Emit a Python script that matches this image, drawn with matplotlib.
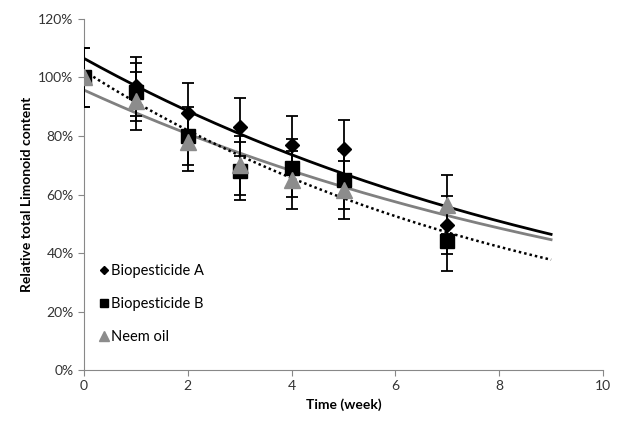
import numpy as np
import matplotlib
matplotlib.use('Agg')
import matplotlib.pyplot as plt
from matplotlib.ticker import FuncFormatter

plt.rcParams['font.family'] = ['Lato', 'DejaVu Sans']

# Data (relative content, %)
weeks = [0, 1, 2, 3, 4, 5, 7]
bio_a = [100, 97, 88, 83, 77, 75.5, 49.5]
bio_a_err = [10, 10, 10, 10, 10, 10, 10]
bio_b = [100, 95, 80, 68, 69, 65, 44]
bio_b_err = [10, 10, 10, 10, 10, 10, 10]
neem = [100, 92, 78, 70, 65, 61.5, 56.5]
neem_err = [10, 10, 10, 10, 10, 10, 10]

x_ticks = [0, 2, 4, 6, 8, 10]
y_ticks = [0, 20, 40, 60, 80, 100, 120]


def exp_fit(x, y):
    # Excel-style exponential trendline
    slope, icpt = np.polyfit(x, np.log(y), 1)
    xs = np.linspace(0, 9, 200)
    return xs, np.exp(icpt) * np.exp(slope * xs)


fig = plt.figure(figsize=(6.21, 4.25), dpi=100)
ax = fig.add_axes([0.1353, 0.1294, 0.8357, 0.8259])

# trend lines
xs, ys = exp_fit(weeks, bio_a)
ax.plot(xs, ys, color='black', lw=2, zorder=2)
xs, ys = exp_fit(weeks, neem)
ax.plot(xs, ys, color='#808080', lw=2, zorder=2)
xs, ys = exp_fit(weeks, bio_b)
ax.plot(xs, ys, color='black', lw=1.8, ls=(0, (1, 1.2)), zorder=2)

err_kw = dict(ecolor='black', elinewidth=1.3, capsize=4, capthick=1.3, ls='none')
ax.errorbar(weeks, bio_a, yerr=bio_a_err, marker='D', ms=7.5, mfc='black', mec='black',
            label='Biopesticide A', zorder=3, **err_kw)
ax.errorbar(weeks, bio_b, yerr=bio_b_err, marker='s', ms=10, mfc='black', mec='black',
            label='Biopesticide B', zorder=4, **err_kw)
ax.errorbar(weeks, neem, yerr=neem_err, marker='^', ms=11, mfc='#8c8c8c', mec='#8c8c8c',
            label='Neem oil', zorder=5, **err_kw)

ax.set_xlim(0, 10)
ax.set_ylim(0, 120)
ax.set_xticks(x_ticks)
ax.set_yticks(y_ticks)
ax.yaxis.set_major_formatter(FuncFormatter(lambda v, p: f'{v:.0f}%'))

for s in ['top', 'right']:
    ax.spines[s].set_visible(False)
for s in ['left', 'bottom']:
    ax.spines[s].set_color('#888888')
ax.tick_params(colors='#888888', labelcolor='#333333', labelsize=10, length=4, direction='out')

ax.set_xlabel('Time (week)', fontsize=10, fontweight='bold')
ax.set_ylabel('Relative total Limonoid content', fontsize=10, fontweight='bold')

h, l = ax.get_legend_handles_labels()
handles = [hh[0] for hh in h]
leg = ax.legend(handles, l, loc='upper left',
                bbox_to_anchor=(0.005, 0.34), frameon=False, fontsize=10.5,
                labelspacing=1.3, handlelength=0.6, handletextpad=0.2, markerscale=0.6)

fig.savefig('out.png', dpi=100)
